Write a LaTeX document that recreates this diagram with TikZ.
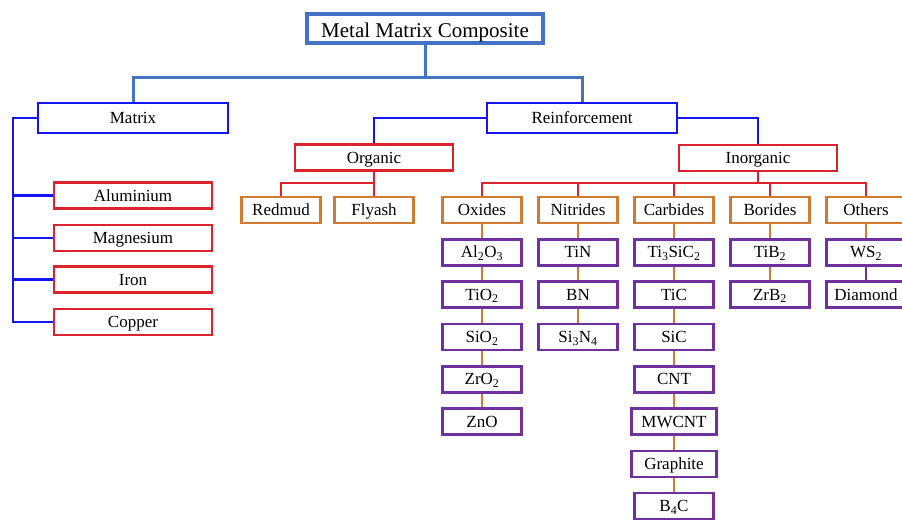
\documentclass[tikz,border=0pt]{standalone}
\usepackage{fontspec}
\setmainfont{Liberation Serif}
\usepackage{tikz}

\definecolor{rootblue}{RGB}{68,114,196}
\definecolor{mblue}{RGB}{20,20,245}
\definecolor{mred}{RGB}{218,35,45}
\definecolor{morange}{RGB}{208,122,52}
\definecolor{mpurple}{RGB}{112,48,160}

\begin{document}
\begin{tikzpicture}[x=1pt, y=-1pt,
  every node/.style = {shape=rectangle, fill=white, align=center,
    inner sep=0pt, text height=13pt, text depth=1.8pt,
    font=\fontsize{17}{20}\selectfont},
  rootbox/.style = {draw=rootblue, line width=4pt, minimum width=236pt,
    minimum height=29pt, text height=17pt, text depth=0pt,
    font=\fontsize{21}{24}\selectfont},
  bluebox/.style = {draw=mblue, line width=2.6pt, minimum width=190pt, minimum height=30pt},
  redbox/.style = {draw=mred, line width=2.6pt, minimum width=158pt, minimum height=26pt},
  orbox/.style = {draw=morange, line width=2.6pt, minimum width=79pt, minimum height=26pt},
  pubox/.style = {draw=mpurple, line width=2.6pt, minimum width=79pt, minimum height=26pt},
  rootline/.style = {draw=rootblue, line width=3pt},
  blueline/.style = {draw=mblue, line width=2.6pt},
  redline/.style = {draw=mred, line width=2.4pt},
  orline/.style = {draw=morange, line width=2.2pt},
  puline/.style = {draw=mpurple, line width=2.2pt}]
  \useasboundingbox (0,0) rectangle (902,521);

  \node[rootbox] (mmc) at (425,29) {Metal Matrix Composite};
  \node[bluebox] (matrix) at (133,118) {Matrix};
  \node[bluebox] (reinf) at (582,118) {Reinforcement};

  \node[redbox] (alu) at (133,195.5) {Aluminium};
  \node[redbox] (mag) at (133,238) {Magnesium};
  \node[redbox] (iron) at (133,279.5) {Iron};
  \node[redbox] (copper) at (133,322) {Copper};

  \node[redbox] (organic) at (374,157.5) {Organic};
  \node[redbox] (inorganic) at (758,158) {Inorganic};

  \node[orbox] (redmud) at (281,210) {Redmud};
  \node[orbox] (flyash) at (374,210) {Flyash};
  \node[orbox] (oxides) at (482,210) {Oxides};
  \node[orbox] (nitrides) at (578,210) {Nitrides};
  \node[orbox] (carbides) at (674,210) {Carbides};
  \node[orbox] (borides) at (770,210) {Borides};
  \node[orbox] (others) at (866,210) {Others};

  \foreach \t [count=\i] in {Al\textsubscript{2}O\textsubscript{3}, TiO\textsubscript{2},
      SiO\textsubscript{2}, ZrO\textsubscript{2}, ZnO}
    \node[pubox] (ox\i) at (482,210+42.3*\i) {\t};
  \foreach \t [count=\i] in {TiN, BN, Si\textsubscript{3}N\textsubscript{4}}
    \node[pubox] (ni\i) at (578,210+42.3*\i) {\t};
  \foreach \t/\w [count=\i] in {{Ti\textsubscript{3}SiC\textsubscript{2}}/79, TiC/79, SiC/79,
      CNT/79, MWCNT/85, Graphite/85, {B\textsubscript{4}C}/79}
    \node[pubox, minimum width=\w pt] (ca\i) at (674,210+42.3*\i) {\t};
  \foreach \t [count=\i] in {TiB\textsubscript{2}, ZrB\textsubscript{2}}
    \node[pubox] (bo\i) at (770,210+42.3*\i) {\t};
  \foreach \t [count=\i] in {WS\textsubscript{2}, Diamond}
    \node[pubox] (ot\i) at (866,210+42.3*\i) {\t};

  \coordinate (rbus) at (425,78);
  \coordinate (mbus) at (13,118);
  \coordinate (obus) at (374,183);
  \coordinate (ibus) at (758,183);

  \draw[rootline] (mmc) -- (rbus);
  \draw[rootline] (matrix.north) |- (rbus) -| (reinf.north);

  \draw[blueline] (matrix) -- (mbus) |- (copper.west);
  \foreach \n in {alu,mag,iron}
    \draw[blueline] (mbus |- \n.west) -- (\n.west);
  \draw[blueline] (reinf.west) -| (organic.north);
  \draw[blueline] (reinf.east) -| (inorganic.north);

  \draw[redline] (organic) -- (flyash);
  \draw[redline] (obus) -| (redmud.north);
  \draw[redline] (inorganic) -- (ibus);
  \draw[redline] (oxides.north) |- (ibus) -| (others.north);
  \foreach \n in {nitrides,carbides,borides}
    \draw[redline] (ibus -| \n.north) -- (\n.north);

  \draw[orline] (oxides) -- (ox1) -- (ox2) -- (ox3) -- (ox4) -- (ox5);
  \draw[orline] (nitrides) -- (ni1) -- (ni2) -- (ni3);
  \draw[orline] (carbides) -- (ca1) -- (ca2) -- (ca3) -- (ca4) -- (ca5) -- (ca6) -- (ca7);
  \draw[orline] (borides) -- (bo1) -- (bo2);
  \draw[orline] (others) -- (ot1);
  \draw[puline] (ot1) -- (ot2);
\end{tikzpicture}
\end{document}
